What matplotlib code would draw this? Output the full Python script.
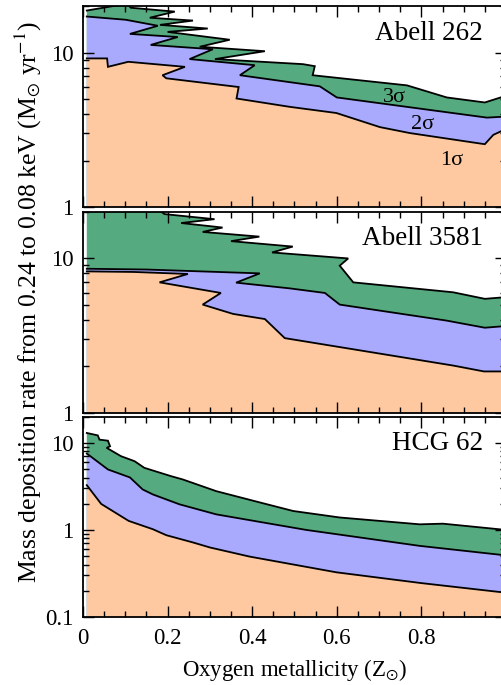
import matplotlib
matplotlib.use("Agg")
import matplotlib.pyplot as plt
from matplotlib.ticker import MultipleLocator, LogLocator, NullFormatter
import numpy as np

plt.rcParams['font.family'] = ['Liberation Serif', 'DejaVu Serif']
plt.rcParams['mathtext.fontset'] = 'stix'

# Confidence contours: mass deposition rate vs oxygen metallicity
# --- Abell 262 ---
a262_3s_x = [0.009, 0.104, 0.113, 0.217, 0.158, 0.260, 0.182, 0.295, 0.200, 0.347, 0.276, 0.430, 0.312, 0.520, 0.548, 0.543, 0.766, 0.860, 0.950, 1.0]
a262_3s_y = [18.7, 20.7, 19.5, 18.4, 16.8, 16.1, 15.1, 14.3, 13.6, 12.1, 10.9, 10.2, 9.07, 8.41, 8.16, 7.13, 6.13, 5.12, 4.75, 5.25]
a262_2s_x = [0.009, 0.101, 0.177, 0.111, 0.224, 0.160, 0.307, 0.252, 0.406, 0.371, 0.560, 0.600, 0.955, 1.0]
a262_2s_y = [17.1, 16.3, 14.9, 13.2, 12.6, 11.2, 10.5, 9.07, 8.28, 7.13, 6.04, 5.12, 3.79, 3.85]
a262_1s_x = [0.009, 0.057, 0.059, 0.107, 0.241, 0.188, 0.197, 0.368, 0.363, 0.489, 0.599, 0.702, 0.773, 0.950, 0.970, 1.0]
a262_1s_y = [9.16, 9.16, 8.08, 8.71, 8.08, 7.13, 6.81, 5.98, 5.04, 4.45, 4.06, 3.29, 3.01, 2.55, 2.93, 3.2]

# --- Abell 3581 ---
a3581_3s_x = [0.009, 0.182, 0.193, 0.311, 0.232, 0.330, 0.283, 0.417, 0.350, 0.496, 0.447, 0.627, 0.607, 0.639, 0.875, 0.950, 1.0]
a3581_3s_y = [20.3, 20.3, 19.3, 17.9, 16.9, 15.8, 14.8, 13.8, 12.9, 11.9, 10.9, 9.97, 8.95, 6.98, 6.02, 5.46, 5.6]
a3581_2s_x = [0.009, 0.15, 0.418, 0.362, 0.489, 0.572, 0.607, 0.859, 0.950, 1.0]
a3581_2s_y = [8.55, 8.45, 7.98, 6.95, 6.38, 5.96, 5.01, 3.95, 3.55, 3.64]
a3581_1s_x = [0.009, 0.12, 0.248, 0.181, 0.326, 0.283, 0.355, 0.430, 0.477, 0.875, 0.948, 1.0]
a3581_1s_y = [8.22, 8.15, 7.91, 6.98, 5.96, 5.01, 4.36, 4.04, 3.04, 2.02, 1.85, 1.85]

# --- HCG 62 ---
hcg_3s_x = [0.009, 0.035, 0.039, 0.059, 0.064, 0.056, 0.090, 0.122, 0.145, 0.208, 0.236, 0.315, 0.413, 0.497, 0.607, 0.796, 0.851, 1.0]
hcg_3s_y = [13.0, 12.2, 10.9, 10.6, 9.14, 8.77, 7.03, 6.16, 5.17, 4.15, 3.80, 2.79, 2.10, 1.65, 1.39, 1.16, 1.18, 1.0]
hcg_2s_x = [0.009, 0.059, 0.111, 0.141, 0.165, 0.228, 0.315, 0.425, 0.528, 0.796, 1.0]
hcg_2s_y = [7.55, 4.95, 4.01, 2.92, 2.56, 1.97, 1.51, 1.22, 1.0, 0.656, 0.51]
hcg_1s_x = [0.009, 0.043, 0.108, 0.165, 0.197, 0.260, 0.300, 0.394, 0.599, 0.800, 1.0]
hcg_1s_y = [3.27, 1.99, 1.27, 1.02, 0.87, 0.718, 0.629, 0.494, 0.326, 0.245, 0.19]

names = ["Abell 262", "Abell 3581", "HCG 62"]
ylims = [(1, 20), (1, 20), (0.1, 20)]
yticks = [[1, 10], [1, 10], [0.1, 1, 10]]
yticklabels = [["1", "10"], ["1", "10"], ["0.1", "1", "10"]]
xticks = [0, 0.2, 0.4, 0.6, 0.8, 1]
xticklabels = ["0", "0.2", "0.4", "0.6", "0.8", "1"]

contours = [
    [(a262_3s_x, a262_3s_y), (a262_2s_x, a262_2s_y), (a262_1s_x, a262_1s_y)],
    [(a3581_3s_x, a3581_3s_y), (a3581_2s_x, a3581_2s_y), (a3581_1s_x, a3581_1s_y)],
    [(hcg_3s_x, hcg_3s_y), (hcg_2s_x, hcg_2s_y), (hcg_1s_x, hcg_1s_y)],
]
colors = ['#55aa7f', '#a9a9fe', '#fec8a0']  # 3 sigma, 2 sigma, 1 sigma

fig = plt.figure(figsize=(5.02, 6.85), dpi=100)
left, width = 0.1653, 0.8426
bottoms = [0.6978, 0.3975, 0.0993]
heights = [0.2934, 0.2934, 0.2924]

tick_fs = 16.5
for i in range(3):
    ax = fig.add_axes([left, bottoms[i], width, heights[i]])
    ax.set_yscale('log')
    ymin = ylims[i][0] * 0.5
    # filled regions, outermost first
    for (cx, cy), col in zip(contours[i], colors):
        cx = np.asarray(cx)
        cy = np.asarray(cy)
        ax.fill(np.r_[cx, cx[-1], cx[0]], np.r_[cy, ymin, ymin], color=col, lw=0)
    for cx, cy in contours[i]:
        ax.plot(cx, cy, color='black', lw=1.3, solid_joinstyle='miter')

    ax.set_xlim(0, 1)
    ax.set_ylim(*ylims[i])
    ax.set_yticks(yticks[i])
    ax.set_yticklabels(yticklabels[i])
    ax.yaxis.set_minor_locator(LogLocator(base=10, subs=np.arange(2, 10)))
    ax.yaxis.set_minor_formatter(NullFormatter())
    ax.set_xticks(xticks)
    ax.xaxis.set_minor_locator(MultipleLocator(0.05))
    if i == 2:
        ax.set_xticklabels(xticklabels)
        ax.set_xlabel(r"Oxygen metallicity (Z$_{\odot}$)", fontsize=tick_fs, labelpad=6)
    else:
        ax.set_xticklabels([])
    ax.tick_params(which='both', direction='in', top=True, right=True, labelsize=tick_fs, width=1.0)
    ax.tick_params(which='major', length=8, pad=7)
    ax.tick_params(axis='x', which='major', pad=8)
    ax.tick_params(which='minor', length=4)
    for sp in ax.spines.values():
        sp.set_linewidth(1.3)

    ax.text(0.945, 0.865, names[i], transform=ax.transAxes, ha='right', va='center', fontsize=19.5)

    if i == 0:
        ax.text(0.737, 0.546, "3σ", transform=ax.transAxes, ha='center', va='center', fontsize=16)
        ax.text(0.803, 0.411, "2σ", transform=ax.transAxes, ha='center', va='center', fontsize=16)
        ax.text(0.872, 0.232, "1σ", transform=ax.transAxes, ha='center', va='center', fontsize=16)

fig.text(0.056, 0.559, r"Mass deposition rate from 0.24 to 0.08 keV (M$_{\odot}$ yr$^{-1}$)",
         rotation=90, ha='center', va='center', fontsize=18.5)

fig.savefig("out.png", dpi=100)
